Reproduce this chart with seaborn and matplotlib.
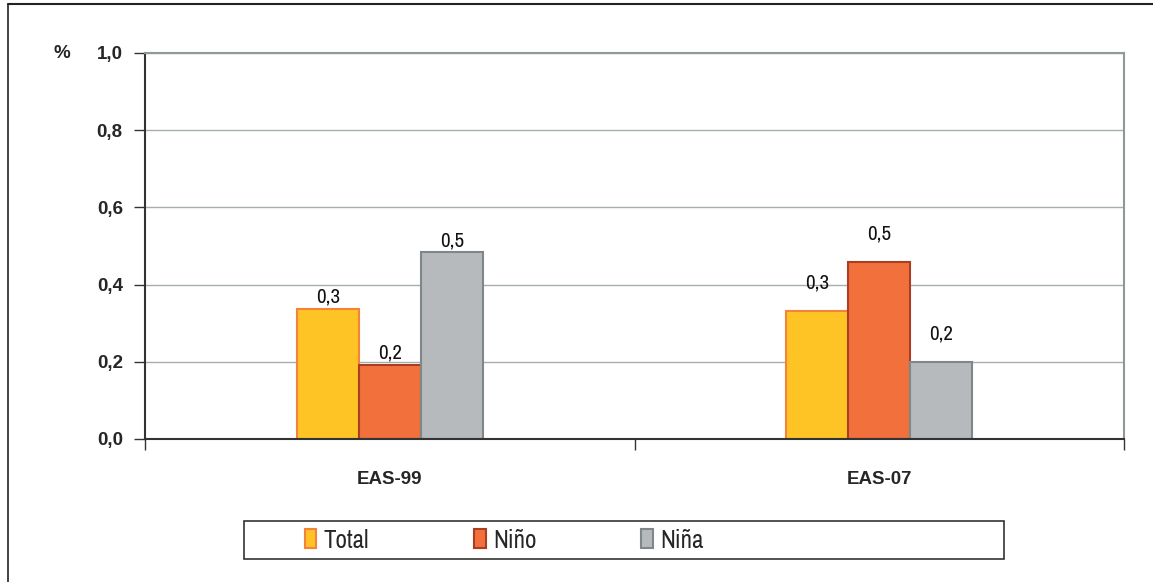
import matplotlib
matplotlib.use("Agg")
import matplotlib.pyplot as plt
from matplotlib.lines import Line2D
from matplotlib.patches import Rectangle, Patch
import seaborn as sns
import pandas as pd

categories = ["EAS-99", "EAS-07"]
series = ["Total", "Niño", "Niña"]
total = [0.337, 0.332]
nino = [0.192, 0.459]
nina = [0.484, 0.200]
yticks = [0.0, 0.2, 0.4, 0.6, 0.8, 1.0]

fills = {"Total": "#FEC425", "Niño": "#F2703C", "Niña": "#B7BABC"}
edges = {"Total": "#F4823A", "Niño": "#A93F22", "Niña": "#7E8889"}

rows = []
for s, vals in zip(series, [total, nino, nina]):
    for c, v in zip(categories, vals):
        rows.append({"cat": c, "serie": s, "val": v})
df = pd.DataFrame(rows)

sns.set_theme(style="white")
plt.rcParams["font.family"] = ["Liberation Sans", "DejaVu Sans"]
narrow = ["Archivo Narrow", "Roboto Condensed", "Liberation Sans", "DejaVu Sans"]

fig = plt.figure(figsize=(11.53, 5.82), dpi=100)
ax = fig.add_axes([145 / 1153, 1 - 439 / 582, (1124 - 145) / 1153, (439 - 53) / 582])

sns.barplot(data=df, x="cat", y="val", hue="serie", order=categories,
            hue_order=series, palette=fills, width=0.38, gap=0,
            ax=ax, legend=False, saturation=1)

for cont, s in zip(ax.containers, series):
    for p in cont:
        p.set_edgecolor(edges[s])
        p.set_linewidth(1.5)

# data labels
for cont in ax.containers:
    for i, p in enumerate(cont):
        v = p.get_height()
        pad = 1.5 if i == 0 else 13
        ax.annotate(f"{v:.1f}".replace(".", ","),
                    (p.get_x() + p.get_width() / 2, v),
                    xytext=(0, pad), textcoords="offset points",
                    ha="center", va="bottom", fontsize=15,
                    family=narrow, color="#111111")

ax.set_xlim(-0.5, 1.5)
ax.set_ylim(0, 1.0)
ax.set_yticks(yticks)
ax.set_yticklabels([f"{t:.1f}".replace(".", ",") for t in yticks],
                   fontsize=13.5, fontweight="bold")
ax.set_xticks([-0.5, 0.5, 1.5])
ax.set_xticklabels([])
ax.set_xticks([0, 1], minor=True)
ax.set_xticklabels(categories, minor=True, fontsize=13.5, fontweight="bold")
ax.tick_params(axis="x", which="minor", length=0, pad=23)
ax.tick_params(axis="x", which="major", direction="out", length=8, width=1, color="#333333", bottom=True)
ax.tick_params(axis="y", direction="out", length=8, width=1, color="#333333", left=True, pad=8)
ax.set_xlabel("")
ax.set_ylabel("")

ax.yaxis.grid(True, color="#A5ADAD", linewidth=1)
ax.set_axisbelow(True)
for side in ["top", "right"]:
    ax.spines[side].set_visible(True)
    ax.spines[side].set_color("#8E9999")
    ax.spines[side].set_linewidth(1.5)
for side in ["left", "bottom"]:
    ax.spines[side].set_color("#333333")
    ax.spines[side].set_linewidth(1.5)

fig.text(62 / 1153, 1 - 53 / 582, "%", ha="center", va="center",
         fontsize=13.5, fontweight="bold")

# outer frame (top and left edge)
fig.add_artist(Line2D([8 / 1153, 1.0], [1 - 4 / 582, 1 - 4 / 582], color="#222222", lw=1.5))
fig.add_artist(Line2D([8 / 1153, 8 / 1153], [0, 1 - 4 / 582], color="#222222", lw=1.2))

# legend box
fig.add_artist(Rectangle((244 / 1153, 1 - 559 / 582), (1004 - 244) / 1153, (559 - 521) / 582,
                         transform=fig.transFigure, fill=False, edgecolor="#333333", lw=1.2))
handles = [Patch(facecolor=fills[s], edgecolor=edges[s], linewidth=1.5) for s in series]
leg = fig.legend(handles, series, loc="center left",
                 bbox_to_anchor=(295 / 1153, 1 - 540 / 582), ncol=3, frameon=False,
                 prop={"family": narrow, "size": 18}, handlelength=0.45, handleheight=0.8,
                 handletextpad=0.3, columnspacing=4.2, borderaxespad=0)

fig.savefig("out.png", dpi=100)
